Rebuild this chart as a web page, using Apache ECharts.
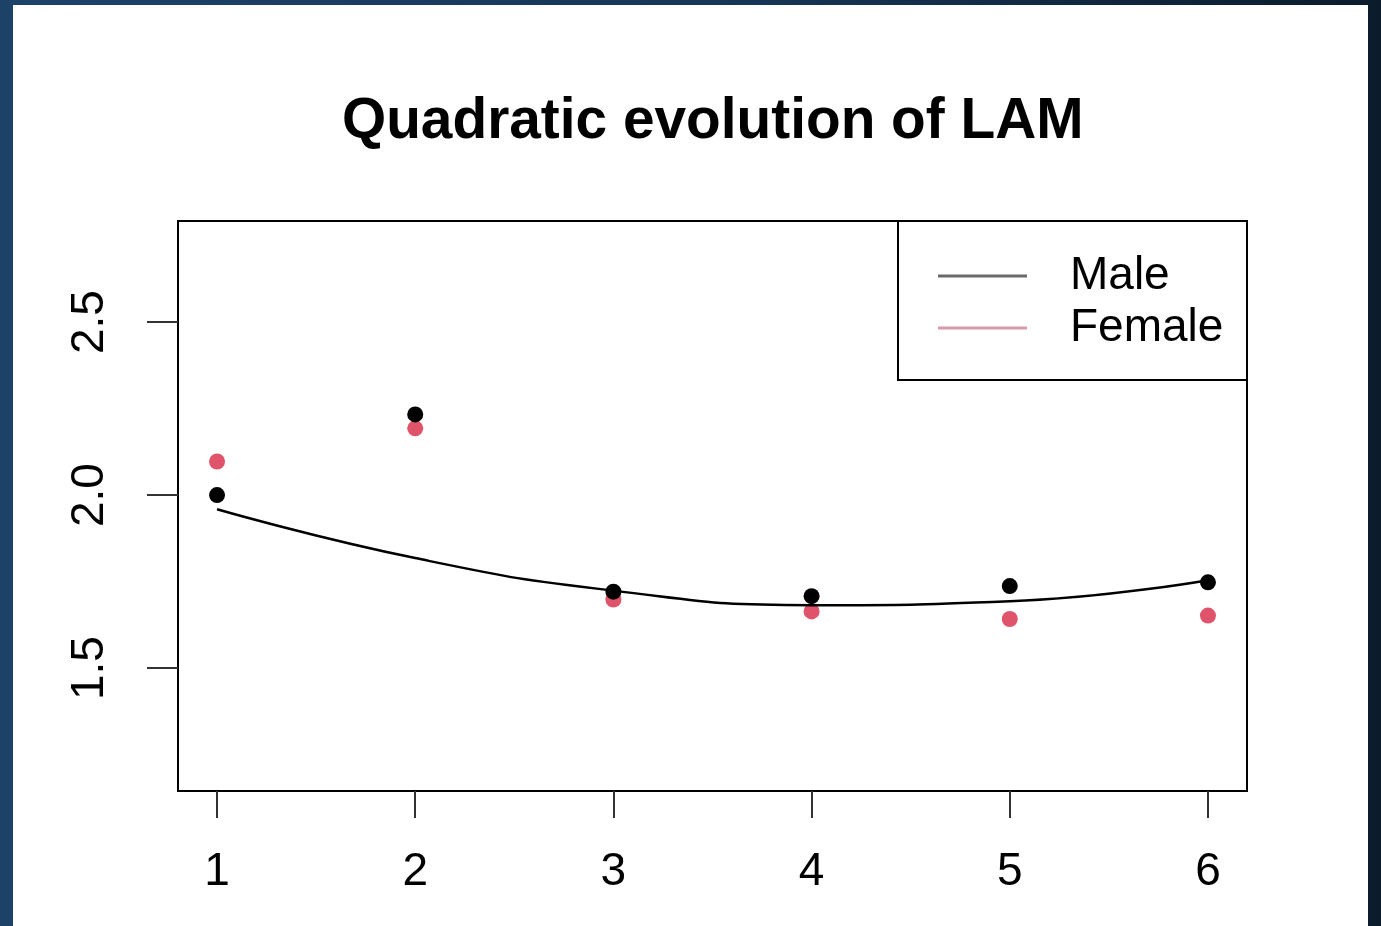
<!DOCTYPE html>
<html>
<head>
<meta charset="utf-8">
<script src="https://cdn.jsdelivr.net/npm/echarts@6/dist/echarts.min.js"></script>
<style>
  html, body { margin: 0; padding: 0; }
  body {
    width: 1381px; height: 926px; overflow: hidden;
    background: linear-gradient(90deg, #1d4268 0%, #173556 55%, #0b1b2c 100%);
    position: relative;
  }
  #chart {
    position: absolute; left: 13px; top: 5px;
    width: 1355px; height: 921px; background: #fff;
  }
</style>
</head>
<body>
<div id="chart"></div>
<script>
// time points and observed LAM means
const timePoints = [1, 2, 3, 4, 5, 6];
const maleValues = [2.000, 2.233, 1.721, 1.708, 1.737, 1.748];
const femaleValues = [2.097, 2.193, 1.698, 1.664, 1.642, 1.652];

// quadratic fit
const fitX = [1, 2, 3, 4, 5, 6];
const fitValues = [1.959, 1.818, 1.724, 1.682, 1.693, 1.754];

const xTicks = [1, 2, 3, 4, 5, 6];
const yTicks = [1.5, 2.0, 2.5];

var chart = echarts.init(document.getElementById('chart'));

const font = 'Liberation Sans, Arial, Helvetica, sans-serif';

const option = {
  animation: false,
  textStyle: { fontFamily: font },
  title: {
    text: 'Quadratic evolution of LAM',
    left: 324,
    top: 84,
    textStyle: { fontSize: 56.8, fontWeight: 'bold', color: '#000', fontFamily: font }
  },
  grid: {
    left: 165,
    top: 216,
    right: 121,
    bottom: 135,
    show: true,
    borderColor: '#000',
    borderWidth: 2
  },
  xAxis: {
    type: 'value',
    min: 0.803,
    max: 6.197,
    splitLine: { show: false },
    axisLine: { show: false },
    axisTick: {
      show: true,
      length: 27,
      customValues: xTicks,
      lineStyle: { color: '#333', width: 2 }
    },
    axisLabel: {
      customValues: xTicks,
      margin: 58,
      fontSize: 46,
      color: '#000'
    }
  },
  yAxis: {
    type: 'value',
    min: 1.145,
    max: 2.792,
    splitLine: { show: false },
    axisLine: { show: false },
    axisTick: {
      show: true,
      length: 31,
      customValues: yTicks,
      lineStyle: { color: '#333', width: 2 }
    },
    axisLabel: {
      customValues: yTicks,
      rotate: 90,
      margin: 65,
      fontSize: 46,
      color: '#000',
      formatter: function (v) { return v.toFixed(1); }
    }
  },
  legend: {
    orient: 'vertical',
    left: 925,
    top: 248,
    padding: 0,
    itemWidth: 89,
    itemHeight: 3,
    itemGap: 6,
    selectedMode: false,
    z: 10,
    textStyle: { fontSize: 46, lineHeight: 46, color: '#000', padding: [0, 0, 0, 38] },
    data: [
      { name: 'Male', icon: 'rect', itemStyle: { color: '#6a6a6a' } },
      { name: 'Female', icon: 'rect', itemStyle: { color: '#d89aaa' } }
    ]
  },
  graphic: [
    {
      type: 'rect',
      shape: { x: 885, y: 216, width: 349, height: 159 },
      style: { fill: 'transparent', stroke: '#000', lineWidth: 2 },
      z: 1
    }
  ],
  series: [
    {
      name: 'Male',
      type: 'scatter',
      symbolSize: 16,
      itemStyle: { color: '#000', opacity: 1 },
      data: timePoints.map((t, i) => [t, maleValues[i]]),
      z: 3
    },
    {
      name: 'Female',
      type: 'scatter',
      symbolSize: 16,
      itemStyle: { color: '#DF536B', opacity: 1 },
      data: timePoints.map((t, i) => [t, femaleValues[i]]),
      z: 2
    },
    {
      name: 'fit',
      type: 'line',
      smooth: 0.5,
      showSymbol: false,
      lineStyle: { color: '#000', width: 2.5 },
      data: fitX.map((t, i) => [t, fitValues[i]]),
      z: 4
    }
  ]
};

chart.setOption(option);
</script>
</body>
</html>
